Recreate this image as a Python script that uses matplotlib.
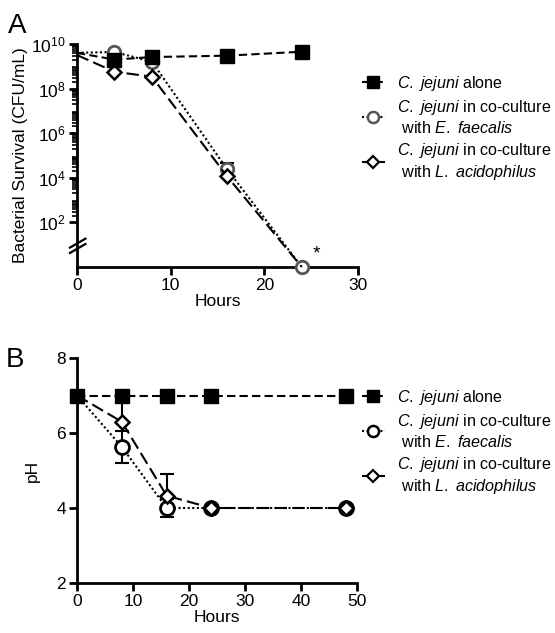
import matplotlib
matplotlib.use("Agg")
import matplotlib.pyplot as plt
from matplotlib.lines import Line2D
from matplotlib.ticker import FixedLocator, NullFormatter
import numpy as np

plt.rcParams['font.family'] = ['Liberation Sans', 'DejaVu Sans']
plt.rcParams['mathtext.fontset'] = 'custom'
plt.rcParams['mathtext.rm'] = 'Liberation Sans'
plt.rcParams['mathtext.it'] = 'Liberation Sans:italic'
plt.rcParams['mathtext.bf'] = 'Liberation Sans:bold'

# ---------------- Data ----------------
# Panel A: bacterial survival (CFU/mL); 24 h co-culture values at the detection floor (axis bottom)
hours_a = [0, 4, 8, 16, 24]
alone_a = [4.0e9, 2.0e9, 2.6e9, 3.0e9, 4.5e9]
faecalis_a = [4.0e9, 4.4e9, 1.6e9, 2.5e4, 1.0]
faecalis_a_err_up = [0, 0, 0, 2.2e4, 0]
acido_a = [3.2e9, 5.7e8, 3.4e8, 1.2e4, 1.0]

# Panel B: pH
hours_b = [0, 8, 16, 24, 48]
alone_b = [7.0, 7.0, 7.0, 7.0, 7.0]
faecalis_b = [7.0, 5.63, 4.0, 4.0, 4.0]
faecalis_b_err = [0, 0.42, 0.25, 0, 0]
acido_b = [7.0, 6.3, 4.33, 4.0, 4.0]
acido_b_err_up = [0, 0.7, 0.57, 0, 0]

xticks_a = [0, 10, 20, 30]
xticks_b = [0, 10, 20, 30, 40, 50]
yticks_b = [2, 4, 6, 8]

labels = [r"$\it{C.}$ $\it{jejuni}$ alone",
          r"$\it{C.}$ $\it{jejuni}$ in co-culture" + "\n" + r" with $\it{E.}$ $\it{faecalis}$",
          r"$\it{C.}$ $\it{jejuni}$ in co-culture" + "\n" + r" with $\it{L.}$ $\it{acidophilus}$"]

FS = 12.5
LFS = 11.6
fig = plt.figure(figsize=(5.55, 6.33), dpi=100)

def style_axes(ax):
    for s in ['top', 'right']:
        ax.spines[s].set_visible(False)
    for s in ['left', 'bottom']:
        ax.spines[s].set_linewidth(2.0)
    ax.tick_params(which='major', direction='out', length=6, width=2.0, labelsize=FS, pad=2)
    ax.tick_params(which='minor', direction='out', length=3.5, width=1.2)

# ---------------- Panel A ----------------
axA = fig.add_axes([77/555, 1-267/633, 281/555, 223/633])
style_axes(axA)
axA.set_yscale('log')
axA.set_ylim(1, 1e10)
axA.set_xlim(0, 30)
axA.set_xticks(xticks_a)
axA.yaxis.set_major_locator(FixedLocator([1e2, 1e4, 1e6, 1e8, 1e10]))
minor = [k * 10.0**d for d in range(2, 10) for k in range(2, 10)]
axA.yaxis.set_minor_locator(FixedLocator(minor))
axA.yaxis.set_minor_formatter(NullFormatter())

lw = 1.5
axA.plot(hours_a, alone_a, linestyle=(0, (4, 2)), color='black', lw=lw,
         marker='s', markersize=10, markerfacecolor='black', markeredgecolor='black',
         markevery=[1, 2, 3, 4], clip_on=False, zorder=4)
axA.plot(hours_a, faecalis_a, linestyle=(0, (1, 1.2)), color='black', lw=lw,
         marker='o', markersize=9, markerfacecolor='white', markeredgecolor='#555555',
         markeredgewidth=2, markevery=[1, 2, 3, 4], clip_on=False, zorder=3)
axA.errorbar(hours_a, faecalis_a, yerr=[[0]*5, faecalis_a_err_up], fmt='none',
             ecolor='black', elinewidth=1.5, capsize=5, capthick=1.5, zorder=2)
axA.plot(hours_a, acido_a, linestyle=(0, (6, 2.5)), color='black', lw=lw,
         marker='D', markersize=7, markerfacecolor='white', markeredgecolor='black',
         markeredgewidth=1.8, markevery=[1, 2, 3], clip_on=False, zorder=3)
axA.set_ylabel("Bacterial Survival (CFU/mL)", fontsize=FS, labelpad=2)
axA.set_xlabel("Hours", fontsize=FS, labelpad=1)
axA.text(25.2, 4, "*", fontsize=14, ha='left', va='center')

# axis break marks
for dy in (-0.012, 0.012):
    axA.plot([-0.025, 0.03], np.array([0.075, 0.115]) + dy, transform=axA.transAxes,
             color='black', lw=1.6, clip_on=False, zorder=5)

# ---------------- Panel B ----------------
axB = fig.add_axes([77/555, 1-583/633, 280/555, 225/633])
style_axes(axB)
axB.set_xlim(0, 50)
axB.set_ylim(2, 8)
axB.set_xticks(xticks_b)
axB.set_yticks(yticks_b)

axB.plot(hours_b, alone_b, linestyle=(0, (4, 2)), color='black', lw=lw,
         marker='s', markersize=10, markerfacecolor='black', markeredgecolor='black',
         clip_on=False, zorder=4)
axB.errorbar(hours_b, faecalis_b, yerr=faecalis_b_err, fmt='none',
             ecolor='black', elinewidth=1.5, capsize=5, capthick=1.5, zorder=2)
axB.plot(hours_b, faecalis_b, linestyle=(0, (1, 1.2)), color='black', lw=lw,
         marker='o', markersize=10, markerfacecolor='white', markeredgecolor='black',
         markeredgewidth=2, markevery=[1, 2, 3, 4], clip_on=False, zorder=3)
axB.errorbar(hours_b, acido_b, yerr=[[0]*5, acido_b_err_up], fmt='none',
             ecolor='black', elinewidth=1.5, capsize=5, capthick=1.5, zorder=2)
axB.plot(hours_b, acido_b, linestyle=(0, (6, 2.5)), color='black', lw=lw,
         marker='D', markersize=7, markerfacecolor='white', markeredgecolor='black',
         markeredgewidth=1.8, markevery=[1, 2, 3, 4], clip_on=False, zorder=3)
axB.set_ylabel("pH", fontsize=FS, labelpad=12)
axB.set_xlabel("Hours", fontsize=FS, labelpad=1)

# ---------------- Legends ----------------
def make_handles(circle_edge):
    return [
        Line2D([0], [0], linestyle=(0, (4, 2)), color='black', lw=lw, marker='s',
               markersize=8, markerfacecolor='black'),
        Line2D([0], [0], linestyle=(0, (1, 1.2)), color='black', lw=lw, marker='o',
               markersize=8, markerfacecolor='white', markeredgecolor=circle_edge,
               markeredgewidth=1.8),
        Line2D([0], [0], linestyle=(0, (6, 2.5)), color='black', lw=lw, marker='D',
               markersize=6, markerfacecolor='white', markeredgecolor='black',
               markeredgewidth=1.6),
    ]

for ax, ytop, edge in ((axA, 74, '#555555'), (axB, 388, 'black')):
    ax.legend(make_handles(edge), labels, loc='upper left',
              bbox_to_anchor=(362/555, 1 - ytop/633), bbox_transform=fig.transFigure,
              frameon=False, fontsize=LFS, handlelength=1.4, handletextpad=0.75,
              labelspacing=0.32, borderpad=0, borderaxespad=0)

fig.text(8/555, 1 - 33/633, "A", fontsize=20, ha='left', va='baseline')
fig.text(6/555, 1 - 367/633, "B", fontsize=20, ha='left', va='baseline')

fig.savefig("out.png", dpi=100)
